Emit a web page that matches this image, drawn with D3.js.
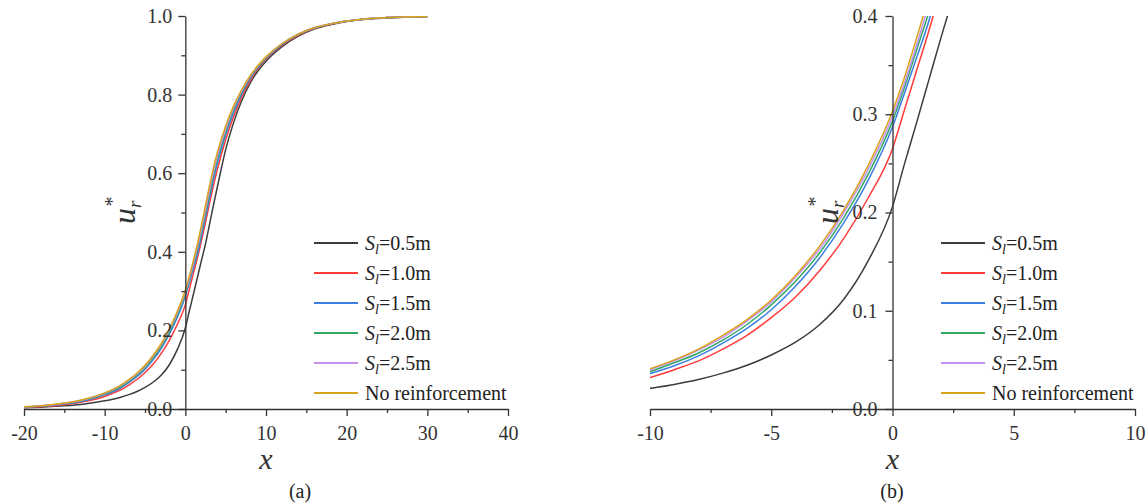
<!DOCTYPE html>
<html>
<head>
<meta charset="utf-8">
<script src="https://cdn.jsdelivr.net/npm/d3@7"></script>
<style>
body{margin:0;background:#fff;}
svg{display:block;}
.ax path,.ax line{stroke:#333;stroke-width:1.3;}
</style>
</head>
<body>
<div id="chart"></div>
<script>
// x positions shared by all series
var xs=[-20,-17.5,-15,-12.5,-10,-9,-8,-7,-6,-5,-4,-3,-2,-1,0,0.5,1,1.5,2,2.5,3,3.5,4,5,6,7,8,9,10,12,14,16,18,20,22,25,30];

var s05=[0.003,0.005,0.008,0.013,0.021,0.025,0.030,0.0365,0.0445,0.055,0.068,0.086,0.112,0.151,0.206,0.250,0.292,0.335,0.378,0.420,0.470,0.520,0.568,0.660,0.730,0.785,0.828,0.860,0.885,0.922,0.949,0.967,0.978,0.986,0.991,0.995,0.999];
var s10=[0.004,0.0065,0.011,0.019,0.032,0.040,0.049,0.061,0.075,0.093,0.114,0.141,0.174,0.215,0.265,0.305,0.345,0.385,0.428,0.475,0.523,0.570,0.612,0.685,0.745,0.795,0.835,0.866,0.890,0.926,0.951,0.968,0.979,0.987,0.992,0.996,0.999];
var s15=[0.0045,0.0074,0.0125,0.021,0.036,0.044,0.054,0.067,0.082,0.101,0.125,0.154,0.190,0.233,0.287,0.322,0.358,0.395,0.440,0.488,0.537,0.585,0.627,0.698,0.755,0.802,0.840,0.869,0.892,0.928,0.953,0.969,0.980,0.987,0.992,0.996,0.999];
var s20=[0.005,0.0082,0.0137,0.0228,0.038,0.047,0.057,0.070,0.086,0.106,0.130,0.159,0.195,0.239,0.293,0.328,0.366,0.404,0.450,0.498,0.547,0.595,0.637,0.705,0.762,0.806,0.843,0.871,0.894,0.929,0.953,0.970,0.980,0.987,0.992,0.996,0.999];
var s25=[0.0054,0.0089,0.0147,0.0243,0.040,0.049,0.060,0.073,0.0895,0.109,0.134,0.163,0.200,0.244,0.298,0.332,0.371,0.412,0.458,0.507,0.557,0.605,0.646,0.712,0.767,0.810,0.845,0.873,0.895,0.930,0.954,0.970,0.980,0.987,0.992,0.996,0.999];
var sNo=[0.0055,0.009,0.015,0.025,0.041,0.050,0.061,0.075,0.091,0.111,0.136,0.166,0.203,0.248,0.303,0.338,0.378,0.420,0.468,0.518,0.568,0.615,0.655,0.720,0.772,0.813,0.847,0.874,0.896,0.930,0.954,0.970,0.980,0.987,0.992,0.996,0.999];

var names=['0.5m','1.0m','1.5m','2.0m','2.5m','No reinforcement'];
var colors=['#3c3c3c','#ff3b3b','#3b7de0','#2fa866','#c58ff0','#d9a21b'];
var allSeries=[s05,s10,s15,s20,s25,sNo];

var leftXTicks=[-20,-10,0,10,20,30,40], leftXMinor=[-15,-5,5,15,25,35];
var leftYTicks=[0,0.2,0.4,0.6,0.8,1.0], leftYMinor=[0.1,0.3,0.5,0.7,0.9];
var rightXTicks=[-10,-5,0,5,10], rightXMinor=[-7.5,-2.5,2.5,7.5];
var rightYTicks=[0,0.1,0.2,0.3,0.4], rightYMinor=[0.05,0.15,0.25,0.35];

var svg=d3.select('#chart').append('svg').attr('width',1147).attr('height',504);
var serif='"Liberation Serif","Times New Roman",serif';

function panel(opt){
	var x=d3.scaleLinear().domain(opt.xd).range(opt.xr),
		y=d3.scaleLinear().domain(opt.yd).range([409,16]),
		g=svg.append('g');

	g.append('clipPath').attr('id',opt.id).append('rect')
		.attr('x',opt.xr[0]).attr('y',16).attr('width',opt.xr[1]-opt.xr[0]).attr('height',409-16);

	var line=d3.line().x(function(d){return x(d[0]);}).y(function(d){return y(d[1]);}).curve(d3.curveMonotoneX);
	var lines=g.append('g').attr('clip-path','url(#'+opt.id+')');
	allSeries.forEach(function(s,i){
		var pts=xs.map(function(v,j){return [v,s[j]];});
		lines.append('path').attr('d',line(pts)).attr('fill','none')
			.attr('stroke',colors[i]).attr('stroke-width',1.5);
	});

	// x axis at y=0
	g.append('g').attr('class','ax').attr('transform','translate(0,'+y(0)+')')
		.call(d3.axisBottom(x).tickValues(opt.xt).tickSize(7).tickSizeOuter(0).tickPadding(10)
			.tickFormat(function(d){return String(d);}))
		.attr('font-family',serif).attr('font-size',20)
		.selectAll('text').attr('fill','#333');
	g.append('g').attr('class','ax').attr('transform','translate(0,'+y(0)+')')
		.call(d3.axisBottom(x).tickValues(opt.xm).tickSize(4).tickFormat(''))
		.select('.domain').remove();

	// y axis at x=0
	g.append('g').attr('class','ax').attr('transform','translate('+x(0)+',0)')
		.call(d3.axisLeft(y).tickValues(opt.yt).tickSize(7).tickSizeOuter(0).tickPadding(opt.ypad).tickFormat(d3.format('.1f')))
		.attr('font-family',serif).attr('font-size',20)
		.selectAll('text').attr('fill','#333');
	g.append('g').attr('class','ax').attr('transform','translate('+x(0)+',0)')
		.call(d3.axisLeft(y).tickValues(opt.ym).tickSize(4).tickFormat(''))
		.select('.domain').remove();

	// axis titles
	g.append('text').attr('x',(opt.xr[0]+opt.xr[1])/2).attr('y',469).attr('text-anchor','middle')
		.attr('font-family',serif).attr('font-style','italic').attr('font-size',30).attr('fill','#333').text('x');
	g.append('text').attr('x',opt.capX).attr('y',498).attr('text-anchor','middle')
		.attr('font-family',serif).attr('font-size',20).attr('fill','#222').text(opt.cap);

	var yl=g.append('text').attr('transform','translate('+opt.ylX+',224) rotate(-90)')
		.attr('font-family',serif).attr('font-style','italic').attr('font-size',32).attr('fill','#333');
	yl.append('tspan').text('u');
	yl.append('tspan').attr('font-size',19).attr('dy',6).text('r');
	yl.append('tspan').attr('font-size',20).attr('dx',-6).attr('dy',-22).attr('font-style','normal').text('*');

	// legend
	var lg=g.append('g');
	names.forEach(function(n,i){
		var yy=243+30*i;
		lg.append('line').attr('x1',opt.lgX).attr('x2',opt.lgX+44).attr('y1',yy).attr('y2',yy)
			.attr('stroke',colors[i]).attr('stroke-width',2);
		var t=lg.append('text').attr('x',opt.lgX+51).attr('y',yy+7)
			.attr('font-family',serif).attr('font-size',20).attr('fill','#222');
		if(i<5){
			t.append('tspan').attr('font-style','italic').text('S');
			t.append('tspan').attr('font-style','italic').attr('font-size',14).attr('dy',4).text('l');
			t.append('tspan').attr('dy',-4).text('='+n);
		}else{
			t.text(n);
		}
	});
}

panel({id:'clipA',xd:[-20,40],xr:[24,508],yd:[0,1],xt:leftXTicks,xm:leftXMinor,yt:leftYTicks,ym:leftYMinor,
	ypad:6,capX:300,cap:'(a)',ylX:135,lgX:314});
panel({id:'clipB',xd:[-10,10],xr:[650,1135],yd:[0,0.4],xt:rightXTicks,xm:rightXMinor,yt:rightYTicks,ym:rightYMinor,
	ypad:8,capX:892,cap:'(b)',ylX:838,lgX:941});
</script>
</body>
</html>
